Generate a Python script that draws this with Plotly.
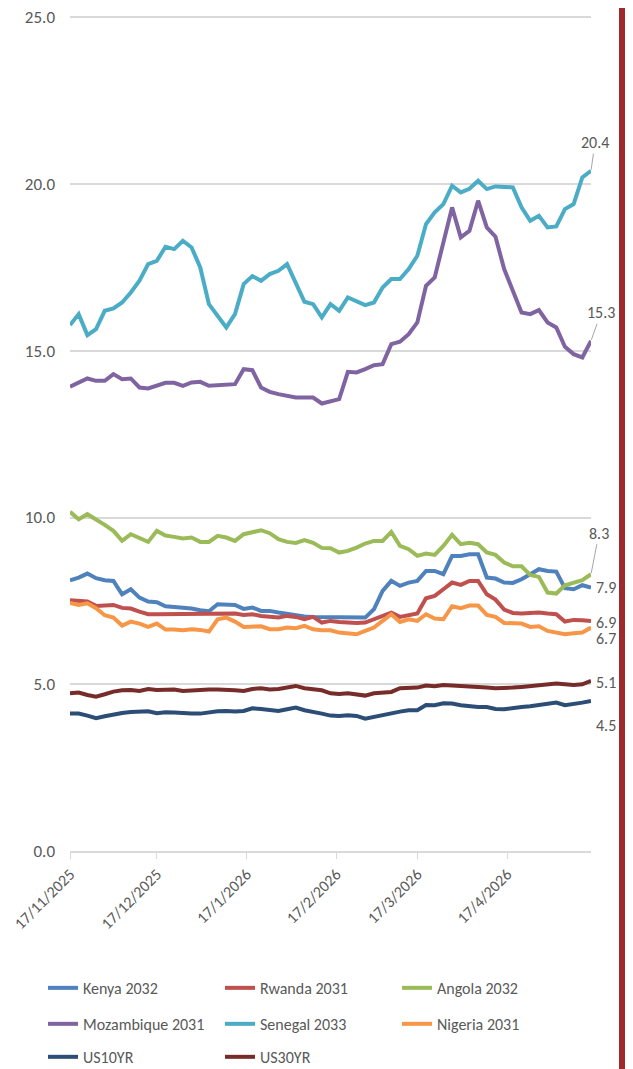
import pandas as pd
import plotly.graph_objects as go

# ---------------- data ----------------
dates = pd.date_range("2025-11-17", periods=61, freq="3D")

kenya_2032 = [8.12, 8.2, 8.32, 8.18, 8.12, 8.1, 7.7, 7.85, 7.6, 7.48,
              7.46, 7.34, 7.32, 7.3, 7.27, 7.22, 7.19, 7.4, 7.4, 7.38,
              7.26, 7.3, 7.2, 7.2, 7.15, 7.1, 7.07, 7.03, 7.02, 7.02,
              7.03, 7.02, 7.02, 7.0, 7.0, 7.25, 7.8, 8.1, 7.95, 8.05,
              8.1, 8.4, 8.4, 8.3, 8.85, 8.85, 8.9, 8.9, 8.2, 8.17,
              8.05, 8.04, 8.15, 8.3, 8.45, 8.4, 8.38, 7.88, 7.85, 7.97,
              7.9]
rwanda_2031 = [7.52, 7.5, 7.48, 7.35, 7.37, 7.38, 7.29, 7.27, 7.18, 7.1,
               7.1, 7.1, 7.1, 7.11, 7.12, 7.12, 7.12, 7.12, 7.12, 7.12,
               7.08, 7.1, 7.05, 7.02, 7.0, 7.05, 7.02, 6.95, 7.02, 6.85,
               6.9, 6.87, 6.85, 6.84, 6.85, 6.95, 7.03, 7.15, 7.02, 7.08,
               7.12, 7.58, 7.65, 7.85, 8.05, 7.98, 8.1, 8.1, 7.7, 7.54,
               7.24, 7.14, 7.12, 7.14, 7.15, 7.12, 7.1, 6.88, 6.93, 6.92,
               6.9]
angola_2032 = [10.17, 9.95, 10.1, 9.95, 9.78, 9.6, 9.3, 9.5, 9.4, 9.27,
               9.6, 9.46, 9.42, 9.37, 9.4, 9.27, 9.27, 9.45, 9.4, 9.3,
               9.5, 9.55, 9.62, 9.53, 9.35, 9.27, 9.24, 9.32, 9.24, 9.09,
               9.08, 8.95, 9.0, 9.1, 9.22, 9.3, 9.3, 9.57, 9.15, 9.05,
               8.85, 8.92, 8.88, 9.15, 9.48, 9.2, 9.24, 9.2, 8.95, 8.88,
               8.65, 8.54, 8.54, 8.28, 8.22, 7.75, 7.72, 7.97, 8.05, 8.12,
               8.3]
mozambique_2031 = [13.92, 14.05, 14.17, 14.1, 14.1, 14.3, 14.15, 14.17, 13.9, 13.87,
                   13.95, 14.04, 14.04, 13.95, 14.05, 14.07, 13.95, 13.97, 14.0, 14.0,
                   14.45, 14.42, 13.9, 13.77, 13.7, 13.65, 13.6, 13.6, 13.6, 13.42,
                   13.5, 13.55, 14.37, 14.35, 14.45, 14.57, 14.6, 15.2, 15.27, 15.5,
                   15.85, 16.95, 17.2, 18.2, 19.3, 18.4, 18.6, 19.5, 18.7, 18.42,
                   17.45, 16.8, 16.15, 16.1, 16.22, 15.85, 15.7, 15.12, 14.9, 14.8,
                   15.3]
senegal_2033 = [15.77, 16.1, 15.47, 15.65, 16.2, 16.27, 16.45, 16.75, 17.1, 17.6,
                17.7, 18.12, 18.05, 18.3, 18.1, 17.5, 16.4, 16.05, 15.7, 16.1,
                17.0, 17.24, 17.1, 17.3, 17.4, 17.6, 17.0, 16.47, 16.4, 16.0,
                16.4, 16.2, 16.6, 16.5, 16.37, 16.45, 16.9, 17.15, 17.15, 17.45,
                17.85, 18.8, 19.15, 19.4, 19.95, 19.75, 19.86, 20.1, 19.85, 19.93,
                19.9, 19.9, 19.3, 18.9, 19.05, 18.7, 18.73, 19.25, 19.4, 20.2,
                20.4]
nigeria_2031 = [7.44, 7.38, 7.43, 7.28, 7.07, 7.0, 6.76, 6.88, 6.82, 6.72,
                6.82, 6.64, 6.64, 6.62, 6.65, 6.63, 6.58, 6.95, 7.0, 6.88,
                6.72, 6.74, 6.74, 6.65, 6.65, 6.7, 6.68, 6.75, 6.65, 6.62,
                6.62, 6.55, 6.52, 6.5, 6.6, 6.7, 6.9, 7.1, 6.87, 6.95,
                6.9, 7.1, 6.97, 6.95, 7.34, 7.28, 7.36, 7.36, 7.08, 7.02,
                6.84, 6.84, 6.82, 6.72, 6.74, 6.6, 6.55, 6.5, 6.53, 6.55,
                6.7]
us10yr = [4.12, 4.12, 4.06, 3.98, 4.04, 4.1, 4.14, 4.17, 4.17, 4.19,
          4.13, 4.16, 4.15, 4.12, 4.12, 4.12, 4.16, 4.19, 4.2, 4.18,
          4.2, 4.28, 4.26, 4.22, 4.2, 4.25, 4.3, 4.22, 4.18, 4.12,
          4.06, 4.05, 4.07, 4.05, 3.97, 4.03, 4.09, 4.15, 4.18, 4.22,
          4.22, 4.38, 4.37, 4.43, 4.42, 4.37, 4.33, 4.32, 4.32, 4.26,
          4.25, 4.3, 4.32, 4.34, 4.37, 4.4, 4.45, 4.37, 4.4, 4.45,
          4.5]
us30yr = [4.73, 4.75, 4.68, 4.63, 4.7, 4.78, 4.82, 4.83, 4.8, 4.86,
          4.83, 4.83, 4.84, 4.8, 4.82, 4.84, 4.84, 4.84, 4.84, 4.82,
          4.8, 4.86, 4.88, 4.84, 4.86, 4.9, 4.95, 4.88, 4.85, 4.82,
          4.73, 4.71, 4.73, 4.7, 4.66, 4.73, 4.76, 4.77, 4.88, 4.9,
          4.9, 4.96, 4.94, 4.98, 4.97, 4.94, 4.93, 4.92, 4.9, 4.88,
          4.88, 4.9, 4.92, 4.94, 4.96, 5.0, 5.02, 5.0, 4.98, 5.0,
          5.1]

series_names = ["Kenya 2032", "Rwanda 2031", "Angola 2032",
                "Mozambique 2031", "Senegal 2033", "Nigeria 2031",
                "US10YR", "US30YR"]
series_values = [kenya_2032, rwanda_2031, angola_2032,
                 mozambique_2031, senegal_2033, nigeria_2031,
                 us10yr, us30yr]
y_ticks = [0, 5, 10, 15, 20, 25]
y_max = 25.1
x_tick0 = "2025-11-17"
x_range = ["2025-11-17", "2026-05-16"]

# ---------------- style ----------------
colors = ["#4F81BD", "#C0504D", "#9BBB59", "#8064A2",
          "#4BACC6", "#F79646", "#2C4D75", "#772C2A"]
legend_ids = ["legend", "legend", "legend", "legend2", "legend2", "legend2",
              "legend3", "legend3"]
FONT = "Liberation Sans Narrow, Carlito, Calibri, Lato, sans-serif"
GRAY = "#595959"

# the page body has an 8px margin, so the figure starts at window (8, 8)
OFF = 8
W, H = 633 - OFF, 1069 - OFF
UNIT = (851 - 17) / 25.0            # pixels per y unit in the reference
L = 70 - OFF
R = W - (591 - OFF)
B = H - (851 - OFF)
T = (17 - OFF) - (y_max - 25) * UNIT
plot_h = H - T - B
plot_w = W - L - R


def py(pix):
    """window pixel row -> paper y"""
    return (H - B - (pix - OFF)) / plot_h


def px(pix):
    """window pixel column -> paper x"""
    return (pix - OFF - L) / plot_w


fig = go.Figure()
for name, vals, col, lg in zip(series_names, series_values, colors, legend_ids):
    fig.add_trace(go.Scatter(
        x=dates, y=vals, name=name, mode="lines",
        line=dict(color=col, width=4),
        legend=lg,
    ))

# end-of-line data labels
label_cfg = {
    "Senegal 2033": dict(ax=4, ay=-28, arrow=True),
    "Mozambique 2031": dict(ax=10, ay=-28, arrow=True),
    "Angola 2032": dict(ax=8, ay=-41, arrow=True),
    "Kenya 2032": dict(xs=3, ys=0),
    "Rwanda 2031": dict(xs=3, ys=-2),
    "Nigeria 2031": dict(xs=3, ys=-11),
    "US30YR": dict(xs=3, ys=-2),
    "US10YR": dict(xs=3, ys=-25),
}
for name, vals in zip(series_names, series_values):
    c = label_cfg[name]
    if c.get("arrow"):
        fig.add_annotation(
            x=dates[-1], y=vals[-1], text=f"{vals[-1]:.1f}",
            showarrow=True, arrowhead=0, arrowwidth=1, arrowcolor="#A6A6A6",
            ax=c["ax"], ay=c["ay"], standoff=1,
            font=dict(family=FONT, size=16, color=GRAY))
    else:
        fig.add_annotation(
            x=dates[-1], y=vals[-1], text=f"{vals[-1]:.1f}",
            showarrow=False, xanchor="left", yanchor="middle",
            xshift=c["xs"], yshift=c["ys"],
            font=dict(family=FONT, size=16, color=GRAY))

# right-hand red border bar (placed at the right edge of the visible figure)
fig.add_shape(type="rect", xref="paper", yref="paper",
              x0=px(619), x1=px(626), y0=py(1075), y1=py(6),
              fillcolor="#9E2A2B", line=dict(width=0), layer="above")

legend_common = dict(
    orientation="h", xanchor="left", yanchor="middle",
    x=px(43), entrywidth=132, entrywidthmode="pixels",
    font=dict(family=FONT, size=16, color=GRAY),
    bgcolor="rgba(0,0,0,0)", itemclick=False, itemdoubleclick=False,
)

fig.update_layout(
    width=W, height=H,
    margin=dict(l=L, r=R, t=T, b=B, autoexpand=False),
    paper_bgcolor="white", plot_bgcolor="white",
    font=dict(family=FONT, color=GRAY, size=16),
    showlegend=True,
    legend=dict(legend_common, y=py(988)),
    legend2=dict(legend_common, y=py(1024)),
    legend3=dict(legend_common, y=py(1057)),
    xaxis=dict(
        type="date", range=x_range,
        tick0=x_tick0, dtick="M1", tickformat="%-d/%-m/%Y",
        tickangle=-45, ticks="outside", ticklen=6, tickcolor="#D9D9D9",
        showline=True, linecolor="#D9D9D9", linewidth=1.5,
        showgrid=False, zeroline=False,
        tickfont=dict(family=FONT, size=16, color=GRAY),
    ),
    yaxis=dict(
        range=[0, y_max], tickvals=y_ticks, tickformat=".1f",
        showgrid=True, gridcolor="#D9D9D9", gridwidth=1.5,
        zeroline=False, showline=False, ticks="",
        ticklabelstandoff=14, ticklabeloverflow="allow",
        tickfont=dict(family=FONT, size=17, color=GRAY),
    ),
)

fig.write_html("out.html")
